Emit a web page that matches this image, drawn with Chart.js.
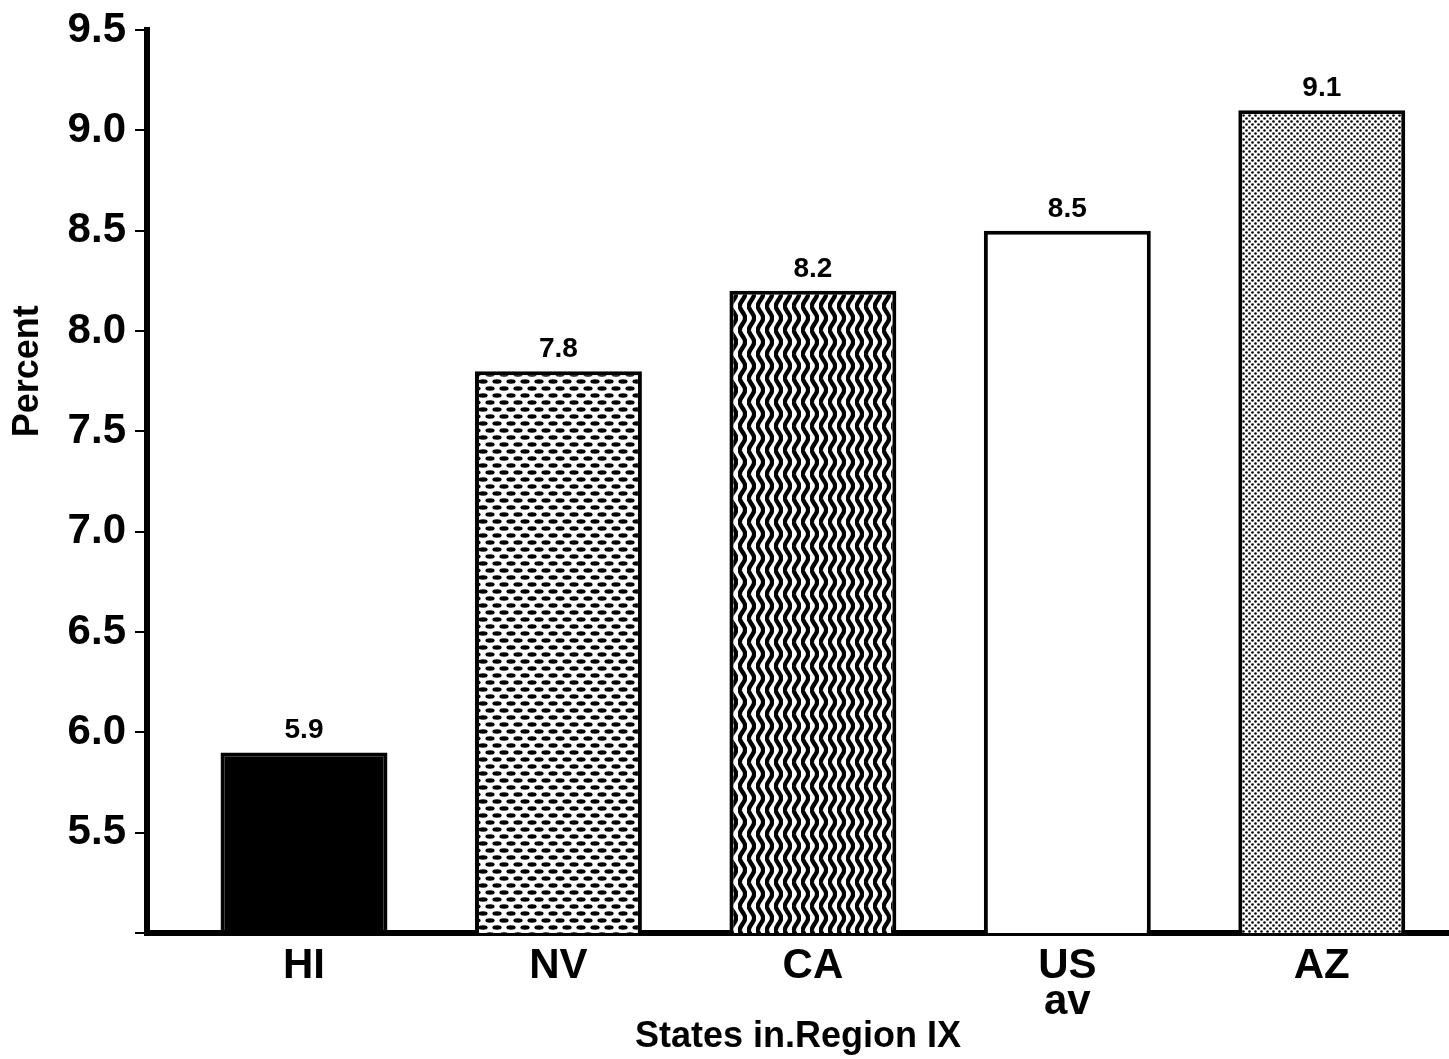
<!DOCTYPE html>
<html>
<head>
<meta charset="utf-8">
<script src="https://cdn.jsdelivr.net/npm/chart.js@4.4.1/dist/chart.umd.min.js"></script>
<style>
  html, body { margin: 0; padding: 0; background: #fff; }
  #wrap { width: 1449px; height: 1059px; }
</style>
</head>
<body>
<div id="wrap"><canvas id="chart"></canvas></div>
<script>
var states = [['HI'], ['NV'], ['CA'], ['US', 'av'], ['AZ']];
var percent = [5.9, 7.8, 8.2, 8.5, 9.1];
var yTicks = [5.0, 5.5, 6.0, 6.5, 7.0, 7.5, 8.0, 8.5, 9.0, 9.5];
var yTitle = 'Percent';
var xTitle = 'States in.Region IX';

var FONT = '"Liberation Sans", Arial, Helvetica, sans-serif';

// small tiles used as bar fills
function tile(w, h, paint) {
  var c = document.createElement('canvas');
  c.width = w; c.height = h;
  var g = c.getContext('2d');
  g.fillStyle = '#fff';
  g.fillRect(0, 0, w, h);
  g.fillStyle = '#000';
  g.strokeStyle = '#000';
  paint(g);
  return document.createElement('canvas').getContext('2d').createPattern(c, 'repeat');
}

// staggered flat ovals
var ovals = tile(14, 14, function (g) {
  [[7, 3.5], [0, 10.5], [14, 10.5]].forEach(function (p) {
    g.beginPath();
    g.ellipse(p[0], p[1], 4.6, 2.2, 0, 0, Math.PI * 2);
    g.fill();
  });
});

// vertical wavy lines
var waves = tile(9, 24, function (g) {
  g.lineWidth = 4.4;
  g.beginPath();
  for (var y = -2; y <= 26; y++) {
    var x = 4.5 + 2.6 * Math.sin(y / 24 * Math.PI * 2);
    if (y === -2) g.moveTo(x, y); else g.lineTo(x, y);
  }
  g.stroke();
});

// fine dot screen
var dots = tile(6, 6, function (g) {
  [[1.5, 1.5], [4.5, 4.5]].forEach(function (p) {
    g.beginPath();
    g.arc(p[0], p[1], 1.3, 0, Math.PI * 2);
    g.fill();
  });
});

var fills = ['#000', ovals, waves, '#fff', dots];

var valueLabels = {
  id: 'valueLabels',
  afterDatasetsDraw: function (chart) {
    var ctx = chart.ctx;
    var meta = chart.getDatasetMeta(0);
    ctx.save();
    ctx.fillStyle = '#000';
    ctx.font = 'bold 28px ' + FONT;
    ctx.textAlign = 'center';
    ctx.textBaseline = 'alphabetic';
    meta.data.forEach(function (bar, i) {
      ctx.fillText(percent[i].toFixed(1), bar.x, bar.y - 14);
    });
    ctx.restore();
  }
};

// rotated y title, sitting a bit above the middle of the axis
var sideTitle = {
  id: 'sideTitle',
  afterDraw: function (chart) {
    var ctx = chart.ctx;
    var a = chart.chartArea;
    ctx.save();
    ctx.translate(28, a.top + (a.bottom - a.top) * 0.378);
    ctx.rotate(-Math.PI / 2);
    ctx.fillStyle = '#000';
    ctx.font = 'bold 36px ' + FONT;
    ctx.textAlign = 'center';
    ctx.textBaseline = 'middle';
    ctx.fillText(yTitle, 0, 0);
    ctx.restore();
  }
};

new Chart(document.getElementById('chart'), {
  type: 'bar',
  data: {
    datasets: [{
      data: percent.map(function (v, i) { return { x: i, y: v }; }),
      backgroundColor: fills,
      borderColor: '#000',
      borderWidth: 4,
      borderSkipped: 'start',
      barPercentage: 0.656,
      categoryPercentage: 1
    }]
  },
  options: {
    responsive: true,
    maintainAspectRatio: false,
    animation: false,
    layout: { padding: { top: 30, left: 0, right: 0, bottom: 0 } },
    plugins: { legend: { display: false }, tooltip: { enabled: false } },
    scales: {
      x: {
        type: 'linear',
        offset: false,
        min: -0.617,
        max: 4.5,
        afterBuildTicks: function (scale) {
          scale.ticks = states.map(function (s, i) { return { value: i }; });
        },
        afterFit: function (scale) { scale.height = 126; },
        grid: { display: false, offset: false },
        border: { color: '#000', width: 6 },
        ticks: {
          autoSkip: false,
          maxRotation: 0,
          padding: 8,
          color: '#000',
          font: { family: FONT, size: 42, weight: 'bold', lineHeight: 0.85 },
          callback: function (v) { return states[v]; }
        },
        title: {
          display: true,
          text: xTitle,
          color: '#000',
          font: { family: FONT, size: 36, weight: 'bold', lineHeight: 1 },
          padding: { top: 0, bottom: 4 }
        }
      },
      y: {
        min: 5,
        max: 9.5,
        afterBuildTicks: function (scale) {
          scale.ticks = yTicks.map(function (v) { return { value: v }; });
        },
        afterFit: function (scale) { scale.width = 147; },
        grid: {
          drawOnChartArea: false,
          drawTicks: true,
          tickLength: 12,
          color: '#000',
          lineWidth: 2
        },
        border: { color: '#000', width: 6 },
        ticks: {
          padding: 9,
          color: '#000',
          font: { family: FONT, size: 42, weight: 'bold', lineHeight: 1 },
          callback: function (v) { return v === 5 ? '' : v.toFixed(1); }
        }
      }
    }
  },
  plugins: [valueLabels, sideTitle]
});
</script>
</body>
</html>
